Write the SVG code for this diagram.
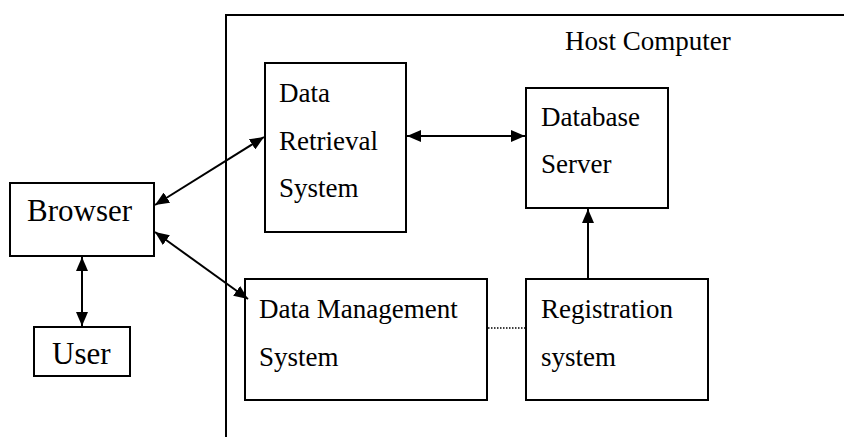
<svg xmlns="http://www.w3.org/2000/svg" width="844" height="439" viewBox="0 0 844 439">
  <style>
    .box { fill: #fff; stroke: #000; stroke-width: 2; }
    .lbl { font-family: "Liberation Serif", "Times New Roman", serif; font-size: 27px; fill: #000; }
    .big { font-size: 31px; }
    .edge { stroke: #000; stroke-width: 2; fill: none; }
    .dot { stroke: #000; stroke-width: 1.5; stroke-dasharray: 1.5 1.5; fill: none; }
  </style>
  <defs>
    <marker id="arrow" viewBox="0 0 14 12" refX="14" refY="6" markerWidth="14" markerHeight="12" markerUnits="userSpaceOnUse" orient="auto-start-reverse">
      <path d="M0,0 L14,6 L0,12 Z" fill="#000"/>
    </marker>
  </defs>

  <!-- host computer boundary (open on the right and bottom) -->
  <g id="host">
    <path class="edge" d="M226,437 L226,15 L844,15"/>
    <text class="lbl" x="565" y="50">Host Computer</text>
  </g>

  <g id="browser">
    <rect class="box" x="10" y="183" width="144" height="73"/>
    <text class="lbl big" x="27" y="221">Browser</text>
  </g>

  <g id="user">
    <rect class="box" x="34" y="327" width="96" height="49"/>
    <text class="lbl big" x="52" y="364">User</text>
  </g>

  <g id="data-retrieval">
    <rect class="box" x="265" y="63" width="141" height="169"/>
    <text class="lbl" x="279" y="102">Data</text>
    <text class="lbl" x="279" y="150">Retrieval</text>
    <text class="lbl" x="279" y="197">System</text>
  </g>

  <g id="database-server">
    <rect class="box" x="526" y="88" width="142" height="120"/>
    <text class="lbl" x="541" y="126">Database</text>
    <text class="lbl" x="541" y="173">Server</text>
  </g>

  <g id="data-management">
    <rect class="box" x="245" y="279" width="242" height="121"/>
    <text class="lbl" x="259" y="318">Data Management</text>
    <text class="lbl" x="259" y="366">System</text>
  </g>

  <g id="registration">
    <rect class="box" x="526" y="279" width="182" height="121"/>
    <text class="lbl" x="541" y="318">Registration</text>
    <text class="lbl" x="541" y="366">system</text>
  </g>

  <g id="connectors">
    <line class="edge" x1="82" y1="257" x2="82" y2="326" marker-start="url(#arrow)" marker-end="url(#arrow)"/>
    <line class="edge" x1="155" y1="205" x2="264" y2="137" marker-start="url(#arrow)" marker-end="url(#arrow)"/>
    <line class="edge" x1="155" y1="232" x2="248" y2="299" marker-start="url(#arrow)" marker-end="url(#arrow)"/>
    <line class="edge" x1="407" y1="136" x2="525" y2="136" marker-start="url(#arrow)" marker-end="url(#arrow)"/>
    <line class="edge" x1="588" y1="279" x2="588" y2="209" marker-end="url(#arrow)"/>
    <line class="dot" x1="488" y1="328" x2="525" y2="328"/>
  </g>
</svg>
